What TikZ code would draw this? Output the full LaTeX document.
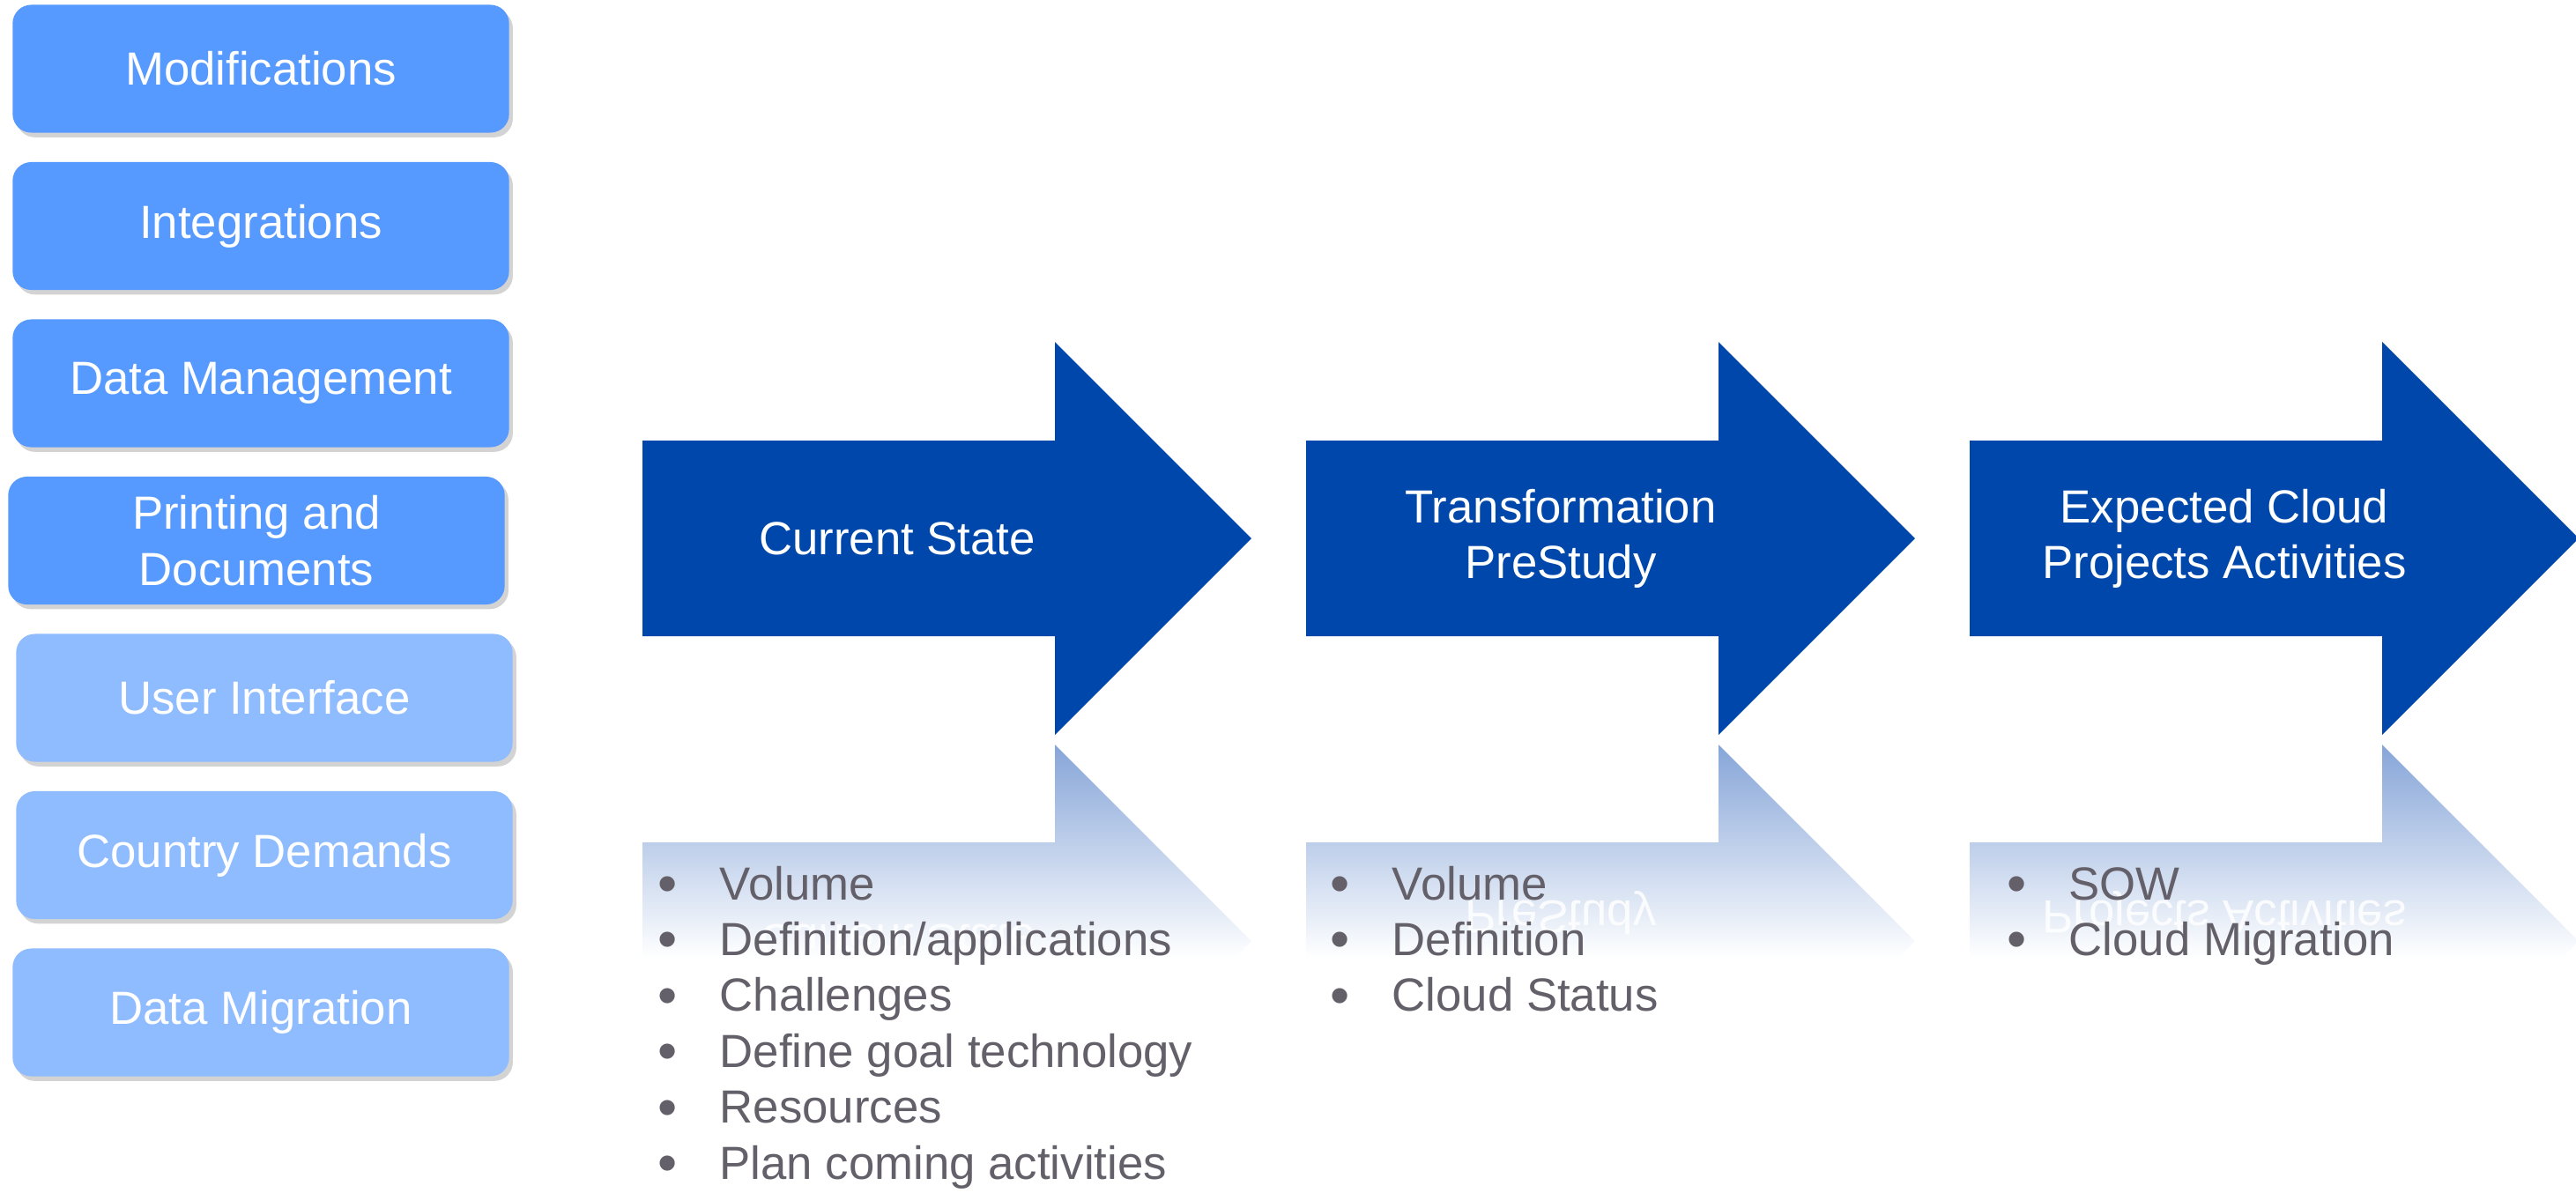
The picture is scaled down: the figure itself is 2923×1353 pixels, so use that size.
\documentclass[tikz,border=0pt]{standalone}
\usepackage{fontspec}
\setmainfont{Liberation Sans}
\usetikzlibrary{shadows}
\definecolor{boxdark}{RGB}{86,153,255}
\definecolor{boxlight}{RGB}{143,187,255}
\definecolor{arrowblue}{RGB}{0,71,171}
\definecolor{reflblue}{RGB}{134,165,216}
\definecolor{itemgray}{RGB}{100,96,106}
\newcommand\itembullet{\makebox[0.7cm][l]{\raisebox{-1pt}{\scalebox{1.2}{•}}}}
\tikzset{slidefont/.style={font=\fontsize{15pt}{18pt}\selectfont}}
\tikzset{topic/.style={slidefont,rounded corners=6pt,minimum width=5.63cm,minimum height=1.45cm,
		 text=white,align=center,drop shadow={shadow xshift=1.2pt,shadow yshift=-1.5pt,opacity=.35}},
		 phase/.style={slidefont,text=white,align=center},
		 echo/.style={phase,yscale=-1,transform shape,opacity=.85},
		 item/.style={slidefont,anchor=base west,inner sep=0pt,text=itemgray,
		 execute at begin node=\itembullet}}
\def\echopath{(729,956) -- (1197,956) -- (1197,845) -- (1420,1068) -- (1401,1087) -- (729,1087) -- cycle}

\begin{document}
\begin{tikzpicture}[x=0.01cm,y=-0.01cm]
	\useasboundingbox (0,0) rectangle (2923,1353);

	% topics on the left
	\foreach \cx/\col/\txt [count=\i] in {296/boxdark/Modifications,296/boxdark/Integrations,
			296/boxdark/Data Management,291/boxdark/{Printing and\\Documents},
			300/boxlight/User Interface,300/boxlight/Country Demands,296/boxlight/Data Migration}
		\node[topic,fill=\col] (box\i) at (\cx,{78+178.5*(\i-1)}) {\txt};

	% the three phases, each with its reflection
	\foreach \dx/\txt [count=\i] in {0/Current State,753/{Transformation\\PreStudy},
			1506/{Expected Cloud\\Projects Activities}} {
		\begin{scope}[xshift=\dx*0.01cm]
			\begin{scope}
				\clip \echopath;
				\shade[top color=reflblue,bottom color=white] (729,845) rectangle (1420,1087);
				\node[echo] (echo\i) at (1018,1068) {\txt};
			\end{scope}
			\fill[arrowblue] (729,500) -- (1197,500) -- (1197,388) -- (1420,611)
				-- (1197,834) -- (1197,722) -- (729,722) -- cycle;
			\node[phase] (phase\i) at (1018,611) {\txt};
		\end{scope}
	}

	% bullet lists
	\foreach \t [count=\j] in {Volume,Definition/applications,Challenges,
			Define goal technology,Resources,Plan coming activities}
		\node[item] (now\j) at (746,{1021+63.4*(\j-1)}) {\t};
	\foreach \t [count=\j] in {Volume,Definition,Cloud Status}
		\node[item] (study\j) at (1509,{1021+63.4*(\j-1)}) {\t};
	\foreach \t [count=\j] in {SOW,Cloud Migration}
		\node[item] (cloud\j) at (2277,{1021+63.4*(\j-1)}) {\t};
\end{tikzpicture}
\end{document}
